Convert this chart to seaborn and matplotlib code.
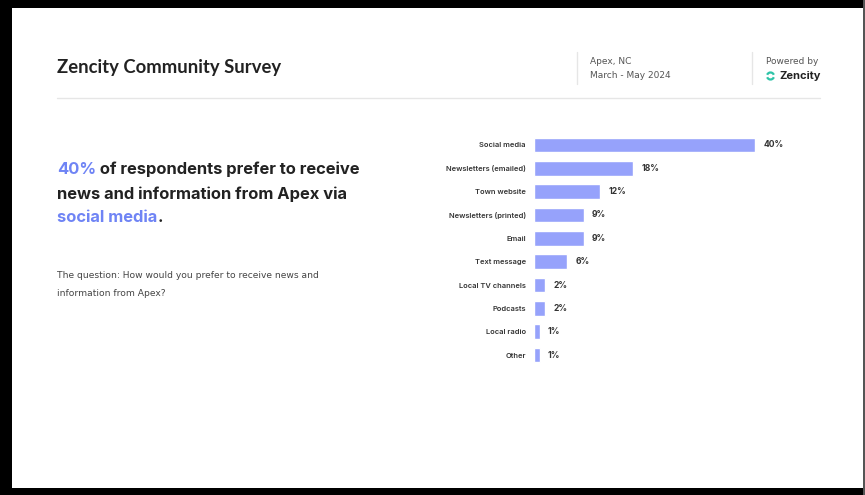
import matplotlib
matplotlib.use("Agg")
import matplotlib.pyplot as plt
import seaborn as sns
import pandas as pd
from matplotlib.patches import Arc, Rectangle
from matplotlib.lines import Line2D

categories = ["Social media", "Newsletters (emailed)", "Town website", "Newsletters (printed)",
              "Email", "Text message", "Local TV channels", "Podcasts", "Local radio", "Other"]
values = [40, 18, 12, 9, 9, 6, 2, 2, 1, 1]
value_labels = ["40%", "18%", "12%", "9%", "9%", "6%", "2%", "2%", "1%", "1%"]

title = "Zencity Community Survey"
location = "Apex, NC"
period = "March - May 2024"
headline_pct = "40%"
headline_line1 = " of respondents prefer to receive"
headline_line2 = "news and information from Apex via"
headline_highlight = "social media"
question_line1 = "The question: How would you prefer to receive news and"
question_line2 = "information from Apex?"

BAR = "#96a2fb"
ACCENT = "#6f84f5"
DARK = "#222222"

sns.set_theme(style="white")
plt.rcParams["font.family"] = ["Inter", "DejaVu Sans"]

W, H = 865, 495
fig = plt.figure(figsize=(W / 100, H / 100), dpi=100)
fig.patch.set_facecolor("white")

# background / overlay axes in pixel coordinates
bg = fig.add_axes([0, 0, 1, 1])
bg.set_xlim(0, W)
bg.set_ylim(H, 0)
bg.axis("off")

# frame
bg.add_patch(Rectangle((0, 0), W, 8, color="black", lw=0))
bg.add_patch(Rectangle((0, 0), 12, H, color="black", lw=0))
bg.add_patch(Rectangle((0, 488), W, H - 488, color="black", lw=0))
bg.add_patch(Rectangle((863, 0), 2, H, color="#555555", lw=0))

# header
bg.text(57, 68, title, fontsize=13.3, fontweight="bold", color=DARK, va="center", ha="left",
        family=["Lato", "DejaVu Sans"])
bg.add_line(Line2D([57, 820], [98, 98], color="#e6e6e6", lw=1))
bg.add_line(Line2D([577, 577], [52, 84], color="#e6e6e6", lw=1))
bg.add_line(Line2D([752, 752], [52, 84], color="#e6e6e6", lw=1))
bg.text(590, 61, location, fontsize=6.5, color="#555555", va="center", ha="left",
        family=["DejaVu Sans"])
bg.text(590, 76, period, fontsize=6.5, color="#555555", va="center", ha="left",
        family=["DejaVu Sans"])
bg.text(766, 61, "Powered by", fontsize=6.5, color="#555555", va="center", ha="left",
        family=["DejaVu Sans"])
bg.text(779, 76, "Zencity", fontsize=8, fontweight="bold", color=DARK, va="center", ha="left",
        family=["Inter", "DejaVu Sans"])
bg.add_patch(Arc((770.5, 76), 7, 7, theta1=200, theta2=340, color="#2ec4a8", lw=1.6))
bg.add_patch(Arc((770.5, 76), 7, 7, theta1=20, theta2=160, color="#2ec4a8", lw=1.6))

# headline
hs = 11.9
t1 = bg.text(57, 169, headline_pct, fontsize=hs, fontweight="bold", color=ACCENT,
             va="center", ha="left")
bg.annotate(headline_line1, xy=(1, 0.5), xycoords=t1, va="center", ha="left",
            fontsize=hs, fontweight="bold", color=DARK)
bg.text(57, 194, headline_line2, fontsize=hs, fontweight="bold", color=DARK, va="center", ha="left")
t3 = bg.text(57, 218, headline_highlight, fontsize=hs, fontweight="bold", color=ACCENT,
             va="center", ha="left")
bg.annotate(".", xy=(1, 0.5), xycoords=t3, va="center", ha="left",
            fontsize=hs, fontweight="bold", color=DARK)

# question
bg.text(57, 275, question_line1, fontsize=6.6, color="#444444", va="center", ha="left",
        family=["DejaVu Sans"])
bg.text(57, 293, question_line2, fontsize=6.6, color="#444444", va="center", ha="left",
        family=["DejaVu Sans"])

# bar chart
left, right = 534, 755
top, bottom = 133.3, 366.7
ax = fig.add_axes([left / W, 1 - bottom / H, (right - left) / W, (bottom - top) / H])
df = pd.DataFrame({"category": categories, "value": values})
sns.barplot(data=df, x="value", y="category", ax=ax, color=BAR, width=0.62,
            saturation=1, orient="h")
ax.set_xlim(0, 40)
ax.set_ylim(len(categories) - 0.5, -0.5)
ax.patch.set_alpha(0)
for s in ax.spines.values():
    s.set_visible(False)
ax.set_xticks([])
ax.set_xlabel("")
ax.set_ylabel("")
ax.tick_params(axis="y", length=0, pad=6, labelsize=5.4, labelcolor="#333333")
for lab in ax.get_yticklabels():
    lab.set_fontweight("semibold")
for i, (v, lbl) in enumerate(zip(values, value_labels)):
    ax.annotate(lbl, xy=(v, i), xytext=(6, 0), textcoords="offset points",
                va="center", ha="left", fontsize=6.2, fontweight="bold", color="#333333",
                annotation_clip=False)

fig.savefig("out.png", dpi=100, facecolor="white")
